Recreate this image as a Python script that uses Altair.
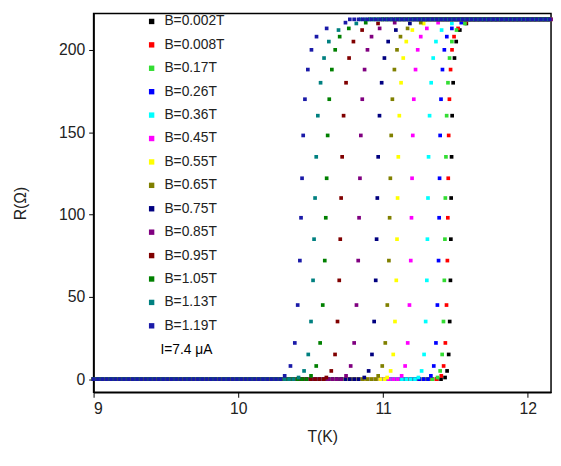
import altair as alt
import numpy as np
import pandas as pd

labels = ["B=0.002T","B=0.008T","B=0.17T","B=0.26T","B=0.36T","B=0.45T","B=0.55T",
          "B=0.65T","B=0.75T","B=0.85T","B=0.95T","B=1.05T","B=1.13T","B=1.19T"]
colors = ["#000000","#ff0000","#33dd33","#0000ff","#00ffff","#ff00ff","#ffff00",
          "#808000","#000080","#800080","#800000","#008000","#008080","#1a1aa8"]
R_levels_a = [1,5,15,35,60,85,110,135,160,180,195,205,212,216]
R_levels_b = [2,8,22,45,72,98,122,148,170,188,200,208,213,216.5]
T_trans = {
 "B=1.19T":[10.32,10.36,10.39,10.41,10.425,10.433,10.44,10.448,10.46,10.48,10.505,10.54,10.61,10.74],
 "B=1.13T":[10.416,10.454,10.483,10.502,10.516,10.523,10.53,10.538,10.549,10.568,10.592,10.625,10.692,10.815],
 "B=1.05T":[10.502,10.538,10.565,10.583,10.597,10.604,10.61,10.617,10.628,10.646,10.669,10.70,10.763,10.88],
 "B=0.95T":[10.608,10.642,10.668,10.685,10.697,10.704,10.71,10.717,10.727,10.744,10.765,10.795,10.855,10.965],
 "B=0.85T":[10.744,10.776,10.80,10.816,10.828,10.834,10.84,10.846,10.856,10.872,10.892,10.92,10.976,11.08],
 "B=0.75T":[10.87,10.90,10.923,10.938,10.949,10.955,10.96,10.966,10.975,10.99,11.009,11.035,11.088,11.185],
 "B=0.65T":[10.966,10.994,11.015,11.029,11.04,11.045,11.05,11.056,11.064,11.078,11.096,11.12,11.169,11.26],
 "B=0.55T":[11.028,11.052,11.07,11.082,11.091,11.096,11.10,11.105,11.112,11.124,11.139,11.16,11.202,11.28],
 "B=0.45T":[11.128,11.152,11.17,11.182,11.191,11.196,11.20,11.205,11.212,11.224,11.239,11.26,11.302,11.38],
 "B=0.36T":[11.244,11.266,11.283,11.294,11.302,11.306,11.31,11.314,11.321,11.332,11.346,11.365,11.404,11.475],
 "B=0.26T":[11.33,11.35,11.365,11.375,11.383,11.387,11.39,11.394,11.40,11.41,11.423,11.44,11.475,11.54],
 "B=0.17T":[11.376,11.394,11.408,11.417,11.423,11.427,11.43,11.434,11.439,11.448,11.459,11.475,11.507,11.565],
 "B=0.008T":[11.402,11.418,11.43,11.438,11.444,11.447,11.45,11.453,11.458,11.466,11.476,11.49,11.518,11.57],
 "B=0.002T":[11.428,11.442,11.453,11.46,11.465,11.468,11.47,11.473,11.477,11.484,11.493,11.505,11.53,11.575],
}
R_normal = 218.5
T_start, T_end, step = 9.0, 12.16, 0.03

rows = []
for i, lab in enumerate(labels):
    ts = T_trans[lab]
    levels = R_levels_a if i % 2 == 0 else R_levels_b
    for t in np.arange(T_start, ts[0] - 0.01, step):
        rows.append((lab, float(t), 0.0))
    for t, r in zip(ts, levels):
        rows.append((lab, t, r))
    for t in np.arange(ts[-1] + step, T_end, step):
        rows.append((lab, float(t), R_normal))
df = pd.DataFrame(rows, columns=["B", "T", "R"])

pts = alt.Chart(df).mark_square(size=14, opacity=1).encode(
    x=alt.X("T:Q", scale=alt.Scale(domain=[9, 12.16], nice=False),
            axis=alt.Axis(values=[9, 10, 11, 12], title="T(K)", grid=False, titlePadding=12)),
    y=alt.Y("R:Q", scale=alt.Scale(domain=[-8, 222], nice=False),
            axis=alt.Axis(values=[0, 50, 100, 150, 200], title="R(Ω)", grid=False, titlePadding=30)),
    color=alt.Color("B:N", scale=alt.Scale(domain=labels, range=colors),
                    legend=alt.Legend(title=None, orient="none", legendX=52, legendY=1,
                                      symbolType="square", symbolSize=30, labelFontSize=14,
                                      rowPadding=9.8, labelOffset=6, symbolStrokeWidth=0)),
    order=alt.Order("B:N"),
)
note = alt.Chart(pd.DataFrame({"t": ["I=7.4 μA"]})).mark_text(
    align="left", fontSize=14, font="Liberation Sans").encode(
    x=alt.value(68), y=alt.value(342), text="t:N")

chart = alt.layer(pts, note).properties(
    width=465, height=385, padding={"left": 5, "top": 2, "right": 0, "bottom": 5},
).configure_axis(
    labelFont="Liberation Sans", titleFont="Liberation Sans", labelFontSize=16,
    titleFontSize=16, titleFontWeight="normal", labelColor="#222", titleColor="#222",
    domainColor="#000", tickColor="#000", domainWidth=1.5, labelPadding=4,
).configure_legend(labelFont="Liberation Sans", labelColor="#222"
).configure_view(stroke="#000", strokeWidth=1.5)

chart.save("out.html", embed_options={"renderer": "svg", "actions": False})
